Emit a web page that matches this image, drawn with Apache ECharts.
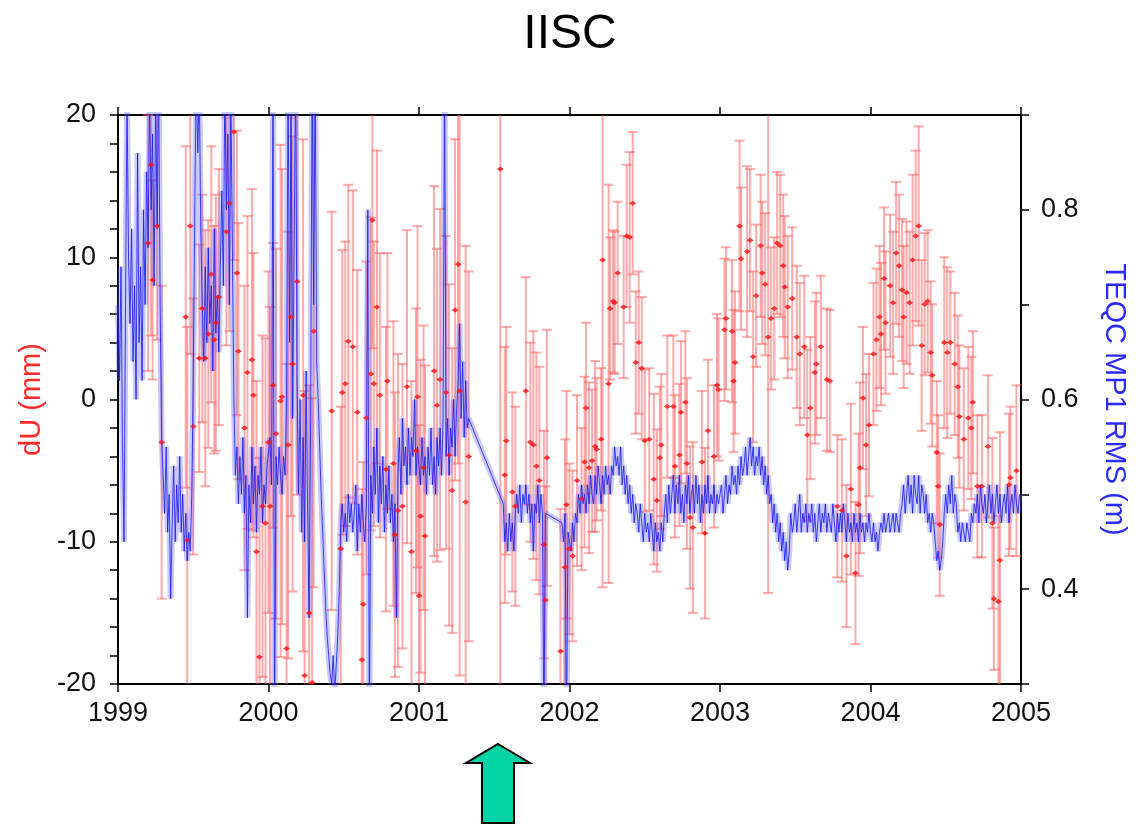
<!DOCTYPE html>
<html>
<head>
<meta charset="utf-8">
<script src="https://cdn.jsdelivr.net/npm/echarts@6/dist/echarts.min.js"></script>
<style>
html,body{margin:0;padding:0;background:#fff;}
#chart{width:1140px;height:824px;}
</style>
</head>
<body>
<div id="chart"></div>
<script>
// ---------- DATA ----------
const title = 'IISC';
const xTickYears = [1999, 2000, 2001, 2002, 2003, 2004, 2005];
const leftAxisName = 'dU (mm)';
const rightAxisName = 'TEQC MP1 RMS (m)';

// Red: dU (mm) weekly solutions [decimal year, value, 1-sigma error]
const redT = [
 1999.20,1999.22,1999.23,1999.26,1999.29,1999.45,1999.46,1999.48,1999.50,1999.54,1999.56,1999.58,1999.60,1999.62,1999.64,1999.65,1999.67,1999.72,1999.74,1999.77,1999.79,1999.80,1999.84,1999.86,1999.89,1999.90,1999.92,1999.94,1999.96,1999.98,
 2000.00,2000.01,2000.03,2000.05,2000.08,2000.09,2000.12,2000.13,2000.15,2000.16,2000.19,2000.23,2000.24,2000.27,2000.29,2000.30,2000.42,2000.48,2000.49,2000.51,2000.53,2000.56,2000.59,2000.62,2000.63,2000.65,2000.68,2000.69,2000.70,2000.72,2000.74,2000.78,2000.79,2000.83,2000.84,2000.86,2000.89,2000.92,2000.95,2000.98,2000.99,
 2001.00,2001.01,2001.03,2001.04,2001.10,2001.12,2001.14,2001.18,2001.20,2001.22,2001.24,2001.26,2001.27,2001.31,2001.33,2001.54,2001.57,2001.58,2001.62,2001.64,2001.71,2001.74,2001.76,2001.78,2001.80,2001.83,2001.84,2001.85,2001.94,2001.97,2001.98,
 2002.00,2002.02,2002.05,2002.08,2002.10,2002.11,2002.13,2002.15,2002.17,2002.18,2002.21,2002.22,2002.26,2002.27,2002.29,2002.30,2002.32,2002.36,2002.38,2002.40,2002.42,2002.44,2002.46,2002.48,2002.50,2002.53,2002.56,2002.58,2002.60,2002.61,2002.65,2002.69,2002.70,2002.73,2002.74,2002.77,2002.78,2002.80,2002.82,2002.88,2002.90,2002.92,2002.96,2002.98,2002.99,
 2003.03,2003.04,2003.08,2003.09,2003.10,2003.13,2003.14,2003.18,2003.20,2003.22,2003.24,2003.27,2003.28,2003.30,2003.32,2003.34,2003.36,2003.38,2003.40,2003.42,2003.43,2003.45,2003.48,2003.51,2003.53,2003.56,2003.58,2003.60,2003.63,2003.64,2003.67,2003.71,2003.73,2003.78,2003.81,2003.84,2003.87,2003.90,2003.92,2003.93,2003.95,2003.97,2003.99,
 2004.02,2004.04,2004.06,2004.07,2004.09,2004.10,2004.13,2004.15,2004.17,2004.19,2004.21,2004.22,2004.24,2004.26,2004.28,2004.30,2004.32,2004.34,2004.36,2004.38,2004.40,2004.41,2004.44,2004.45,2004.46,2004.49,2004.51,2004.53,2004.56,2004.58,2004.59,2004.62,2004.65,2004.67,2004.68,2004.71,2004.74,2004.78,2004.81,2004.82,2004.85,2004.86,2004.92,2004.93,2004.97
];
const redV = [
 11.0,16.5,8.4,12.2,-3.0,5.8,-9.9,12.2,-1.9,2.9,6.4,2.9,4.6,8.8,4.2,5.4,7.2,11.8,13.8,18.8,8.9,3.4,-2.0,1.9,2.8,0.3,-10.7,-18.1,-7.5,-8.7,
 -3.0,-7.5,1.0,-2.4,-0.1,0.2,-17.5,-3.2,5.8,2.5,8.3,0.3,-19.4,-15.0,-19.9,4.8,-0.8,-10.5,0.5,1.1,4.1,3.7,-0.9,-18.3,-14.4,-1.3,1.8,12.6,1.1,6.5,0.3,-4.9,1.3,-4.5,-9.5,-7.8,-7.5,0.9,-10.7,-3.6,0.2,
 -13.8,-8.2,-4.8,-9.6,2.0,-0.4,1.4,0.5,-3.9,-6.4,6.3,9.5,0.6,-7.2,-4.0,16.2,-5.3,-2.9,-6.5,-7.5,0.6,-3.0,-3.2,-4.7,-5.7,-10.2,-14.1,-4.1,-17.7,-11.8,-7.4,
 -10.5,-11.0,-5.7,-7.0,-4.4,-0.6,-4.8,-4.3,-3.3,-3.5,-2.8,9.8,1.1,6.4,6.9,6.8,8.9,6.5,11.5,11.4,13.8,2.6,4.0,2.2,-2.9,-2.8,-5.6,-7.1,-4.1,-3.2,-0.5,-0.5,-4.7,-3.9,-0.9,-0.2,-4.5,-8.3,-9.0,-4.4,-9.4,-2.2,-4.0,1.0,0.7,
 4.9,5.7,4.8,1.3,2.6,12.2,9.9,10.4,11.2,3.0,7.3,10.8,8.9,8.1,4.4,5.7,6.4,11.0,10.8,9.4,7.9,6.5,7.1,4.4,3.2,3.7,-2.5,-0.6,1.9,2.5,3.7,1.4,1.3,-7.5,-7.8,-11.0,-6.3,-12.2,-7.4,-4.8,0.1,-3.2,-1.8,
 3.2,4.2,5.8,4.6,8.5,5.4,8.0,6.8,10.3,9.4,7.7,5.8,7.5,6.8,9.8,11.5,12.2,3.8,6.7,6.9,3.3,1.7,-3.7,-6.1,-8.8,4.0,3.3,4.0,2.5,0.9,-1.2,-2.8,-1.3,-2.0,-0.2,-6.1,-6.1,-3.3,-8.7,-14.0,-14.2,-11.3,-6.0,-5.5,-5.0
];
const redE = [
 9,12,7,8,11,12,15,9,9,8,8,9,8,9,8,9,9,8,9,9,10,9,10,11,12,10,12,14,12,13,
 12,14,10,13,18,16,20,15,14,16,15,18,20,16,20,18,14,10,10,10,11,11,10,12,10,11,11,9,10,11,10,10,9,10,10,11,10,11,12,10,12,
 12,11,10,12,13,11,12,11,12,10,12,14,20,18,13,40,9,8,7,7,8,7,8,8,8,8,8,9,10,9,8,
 6,6,6,5,6,6,6,5,6,5,5,23,14,5,5,5,5,5,5,6,5,5,5,5,5,5,6,5,5,5,5,5,5,5,5,5,6,5,6,5,6,5,5,5,5,
 5,5,5,5,5,6,5,6,5,6,5,5,5,5,18,5,5,5,5,5,5,5,5,5,5,5,6,5,5,5,5,5,5,5,5,5,6,5,5,6,5,5,5,
 5,5,5,5,5,5,5,5,5,5,5,5,5,5,6,6,7,6,5,5,5,5,5,5,5,6,6,5,5,5,5,5,5,5,5,5,5,5,6,5,6,9,5,5,6
];

// Blue: TEQC MP1 RMS (m), sampled every 0.01 yr; null = no data (line bridges gaps)
const blue1999 = [0.70,0.62,0.74,0.55,0.45,0.70,0.92,0.75,0.68,0.78,0.64,0.72,0.60,0.86,0.66,0.74,0.62,0.80,0.70,0.84,0.76,0.92,0.80,0.88,0.72,0.92,0.78,0.94,0.70,0.56,0.52,0.48,0.55,0.46,0.50,0.39,0.47,0.53,0.45,0.51,0.47,0.54,0.46,0.50,0.44,0.48,0.43,0.46,0.44,0.50,0.62,0.80,0.94,0.86,0.93,0.78,0.70,0.64,0.74,0.66,0.76,0.68,0.72,0.63,0.78,0.67,0.71,0.65,0.74,0.82,0.72,0.94,0.80,0.88,0.70,0.92,0.76,0.60,0.52,0.55,0.49,0.54,0.50,0.56,0.48,0.52,0.37,0.51,0.47,0.55,0.49,0.53,0.46,0.52,0.50,0.55,0.47,0.51,0.49,0.53];
const blue2000 = [0.53,0.56,0.51,0.95,0.25,0.54,0.51,0.55,0.52,0.50,0.54,0.52,0.60,0.94,0.66,0.92,0.58,0.75,0.95,0.62,0.50,0.60,0.46,0.56,0.45,0.63,0.48,0.37,0.58,0.95,0.70,0.95,0.64,0.60,0.55,0.50,0.46,0.42,0.38,0.35,0.33,0.31,0.30,0.33,0.29,0.32,0.35,0.40,0.47,0.49,0.46,0.48,0.45,0.50,0.47,0.49,0.46,0.48,0.51,0.44,0.49,0.46,0.50,0.47,0.45,0.49,0.80,0.25,0.52,0.48,0.55,0.50,0.57,0.47,0.53,0.49,0.54,0.46,0.51,0.48,0.53,0.47,0.50,0.45,0.49,0.37,0.52,0.56,0.50,0.58,0.53,0.55,0.51,0.57,0.52,0.56,0.54,0.60,0.52,0.55];
const blue2001 = [0.55,0.51,0.56,0.52,0.54,0.50,0.55,0.52,0.57,0.51,0.54,0.50,0.56,0.53,0.57,0.52,0.58,0.95,0.54,0.58,0.52,0.57,0.55,0.60,0.54,0.59,0.62,0.68,0.58,0.64,0.56,0.62,0.57,0.58,null,null,null,null,null,null,null,null,null,null,null,null,null,null,null,null,null,null,null,null,null,null,0.49,0.45,0.47,0.44,0.48,0.45,0.47,0.44,0.48,0.50,0.48,0.51,0.47,0.50,0.49,0.51,0.48,0.50,0.47,0.49,0.44,0.49,0.48,0.51,0.47,0.50,0.48,0.25,0.48,null,null,null,null,null,null,null,null,null,null,0.47,0.45,0.48,0.25,0.46];
const blue2002 = [0.46,0.44,0.47,0.45,0.48,0.47,0.50,0.48,0.51,0.49,0.50,0.48,0.51,0.49,0.52,0.50,0.49,0.52,0.50,0.53,0.51,0.49,0.52,0.50,0.53,0.51,0.52,0.50,0.53,0.52,0.55,0.53,0.54,0.52,0.55,0.51,0.53,0.50,0.52,0.49,0.51,0.48,0.50,0.47,0.49,0.48,0.46,0.49,0.47,0.45,0.48,0.46,0.47,0.45,0.48,0.46,0.44,0.47,0.45,0.46,0.44,0.47,0.45,0.48,0.50,0.47,0.51,0.48,0.50,0.52,0.48,0.51,0.49,0.52,0.48,0.50,0.47,0.51,0.49,0.52,0.48,0.50,0.51,0.48,0.52,0.49,0.51,0.47,0.50,0.48,0.51,0.49,0.52,0.48,0.50,0.49,0.51,0.48,0.50,0.49];
const blue2003 = [0.49,0.51,0.48,0.50,0.52,0.49,0.51,0.50,0.53,0.51,0.52,0.50,0.53,0.51,0.54,0.52,0.53,0.55,0.52,0.54,0.56,0.53,0.55,0.52,0.54,0.53,0.55,0.52,0.54,0.51,0.53,0.50,0.52,0.49,0.50,0.47,0.49,0.46,0.48,0.45,0.47,0.44,0.46,0.43,0.45,0.42,0.44,0.48,0.46,0.47,0.49,0.46,0.48,0.50,0.46,0.48,0.47,0.49,0.46,0.48,0.47,0.49,0.46,0.48,0.45,0.47,0.49,0.46,0.48,0.47,0.49,0.46,0.48,0.47,0.46,0.49,0.47,0.45,0.48,0.46,0.48,0.46,0.49,0.47,0.45,0.48,0.46,0.47,0.45,0.48,0.46,0.47,0.45,0.48,0.46,0.47,0.45,0.47,0.46,0.48];
const blue2004 = [0.46,0.45,0.47,0.45,0.46,0.44,0.46,0.47,0.46,0.48,0.46,0.47,0.48,0.46,0.47,0.48,0.46,0.48,0.47,0.46,0.48,0.49,0.51,0.48,0.50,0.52,0.49,0.51,0.48,0.52,0.50,0.49,0.52,0.48,0.51,0.50,0.48,0.50,0.47,0.48,0.46,0.48,0.47,0.45,0.43,0.44,0.42,0.43,0.45,0.48,0.50,0.48,0.51,0.49,0.52,0.48,0.50,0.49,0.46,0.47,0.45,0.47,0.46,0.45,0.47,0.46,0.45,0.48,0.47,0.49,0.48,0.50,0.47,0.51,0.49,0.48,0.50,0.47,0.49,0.51,0.48,0.50,0.47,0.49,0.51,0.48,0.50,0.47,0.49,0.50,0.48,0.51,0.47,0.49,0.50,0.48,0.51,0.49,0.48,0.50];
const blueYears = [1999, 2000, 2001, 2002, 2003, 2004];
const blueByYear = [blue1999, blue2000, blue2001, blue2002, blue2003, blue2004];
const blueStep = 0.01;

// ---------- BUILD ----------
const redData = redT.map((t, i) => [t, redV[i], redE[i]]);
const blueData = [];
blueYears.forEach((y, k) => {
  blueByYear[k].forEach((v, i) => blueData.push([+(y + i * blueStep).toFixed(2), v]));
});

const FONT = 'Liberation Sans, Arial, Helvetica, sans-serif';
const chart = echarts.init(document.getElementById('chart'), null, {renderer: 'canvas'});

function errRender(params, api) {
  const cs = params.coordSys;
  const x = api.value(0), v = api.value(1), e = api.value(2);
  const p1 = api.coord([x, v + e]);
  const p2 = api.coord([x, v - e]);
  const yTop = cs.y, yBot = cs.y + cs.height;
  const t = Math.max(p1[1], yTop), b = Math.min(p2[1], yBot);
  const st = {stroke: 'rgba(255,85,85,0.5)', lineWidth: 2};
  const children = [{type: 'line', shape: {x1: p1[0], y1: t, x2: p1[0], y2: b}, style: st}];
  const hw = 5;
  if (p1[1] >= yTop) children.push({type: 'line', shape: {x1: p1[0] - hw, y1: p1[1], x2: p1[0] + hw, y2: p1[1]}, style: st});
  if (p2[1] <= yBot) children.push({type: 'line', shape: {x1: p2[0] - hw, y1: p2[1], x2: p2[0] + hw, y2: p2[1]}, style: st});
  return {type: 'group', children};
}

const axisLine = {show: true, onZero: false, lineStyle: {color: '#000', width: 2}};
const tickStyle = {show: true, length: 8, inside: false, lineStyle: {color: '#000', width: 1.5}};
const labelStyle = {color: '#111', fontSize: 27, fontFamily: FONT};

chart.setOption({
  animation: false,
  backgroundColor: '#fff',
  title: {
    text: title, left: 'center', top: 6,
    textStyle: {fontSize: 48, fontWeight: 'normal', color: '#000', fontFamily: FONT}
  },
  grid: {left: 118, right: 119, top: 115, bottom: 140, containLabel: false},
  xAxis: [
    {
      type: 'value', min: xTickYears[0], max: xTickYears[xTickYears.length - 1], interval: 1,
      position: 'bottom',
      axisLine, axisTick: tickStyle,
      axisLabel: Object.assign({margin: 16, formatter: v => String(Math.round(v))}, labelStyle),
      splitLine: {show: false}
    },
    {
      type: 'value', min: xTickYears[0], max: xTickYears[xTickYears.length - 1], interval: 1,
      position: 'top',
      axisLine, axisTick: tickStyle, axisLabel: {show: false}, splitLine: {show: false}
    }
  ],
  yAxis: [
    {
      type: 'value', min: -20, max: 20, interval: 10, position: 'left',
      name: leftAxisName, nameLocation: 'middle', nameGap: 70,
      nameTextStyle: {color: '#ff2a2a', fontSize: 29, fontFamily: FONT},
      axisLine, axisTick: tickStyle,
      minorTick: {show: true, splitNumber: 5, length: 8, lineStyle: {color: '#000', width: 1.5}},
      axisLabel: Object.assign({margin: 22}, labelStyle),
      splitLine: {show: false}, minorSplitLine: {show: false}
    },
    {
      type: 'value', min: 0.3, max: 0.9, interval: 0.1, position: 'right',
      name: rightAxisName, nameLocation: 'middle', nameGap: 78, nameRotate: -90,
      nameTextStyle: {color: '#2a2aff', fontSize: 29, fontFamily: FONT},
      axisLine, axisTick: tickStyle,
      axisLabel: Object.assign({margin: 20, formatter: v => (Math.round(v * 10) % 2 === 0 ? v.toFixed(1) : '')}, labelStyle),
      splitLine: {show: false}
    }
  ],
  series: [
    {
      name: 'dU error', type: 'custom', xAxisIndex: 0, yAxisIndex: 0,
      renderItem: errRender, data: redData, z: 1, silent: true
    },
    {
      name: 'MP1 halo', type: 'line', xAxisIndex: 0, yAxisIndex: 1, data: blueData,
      showSymbol: false, symbol: 'none', connectNulls: true, clip: true,
      lineStyle: {color: 'rgba(100,100,255,0.35)', width: 6}, z: 2, silent: true
    },
    {
      name: 'MP1 RMS', type: 'line', xAxisIndex: 0, yAxisIndex: 1, data: blueData,
      showSymbol: false, symbol: 'none', connectNulls: true, clip: true,
      lineStyle: {color: 'rgba(20,20,235,0.8)', width: 1}, z: 3, silent: true
    },
    {
      name: 'dU', type: 'scatter', xAxisIndex: 0, yAxisIndex: 0,
      data: redData.map(d => [d[0], d[1]]),
      symbol: 'diamond', symbolSize: [7, 5], clip: true,
      itemStyle: {color: '#ff1010'}, z: 4, silent: true
    }
  ],
  graphic: [
    {
      type: 'polygon', silent: true,
      shape: {points: [[498, 744], [530, 763], [514, 763], [514, 823], [482, 823], [482, 763], [466, 763]]},
      style: {fill: '#00d4a6', stroke: '#000', lineWidth: 2}
    }
  ]
});
</script>
</body>
</html>
